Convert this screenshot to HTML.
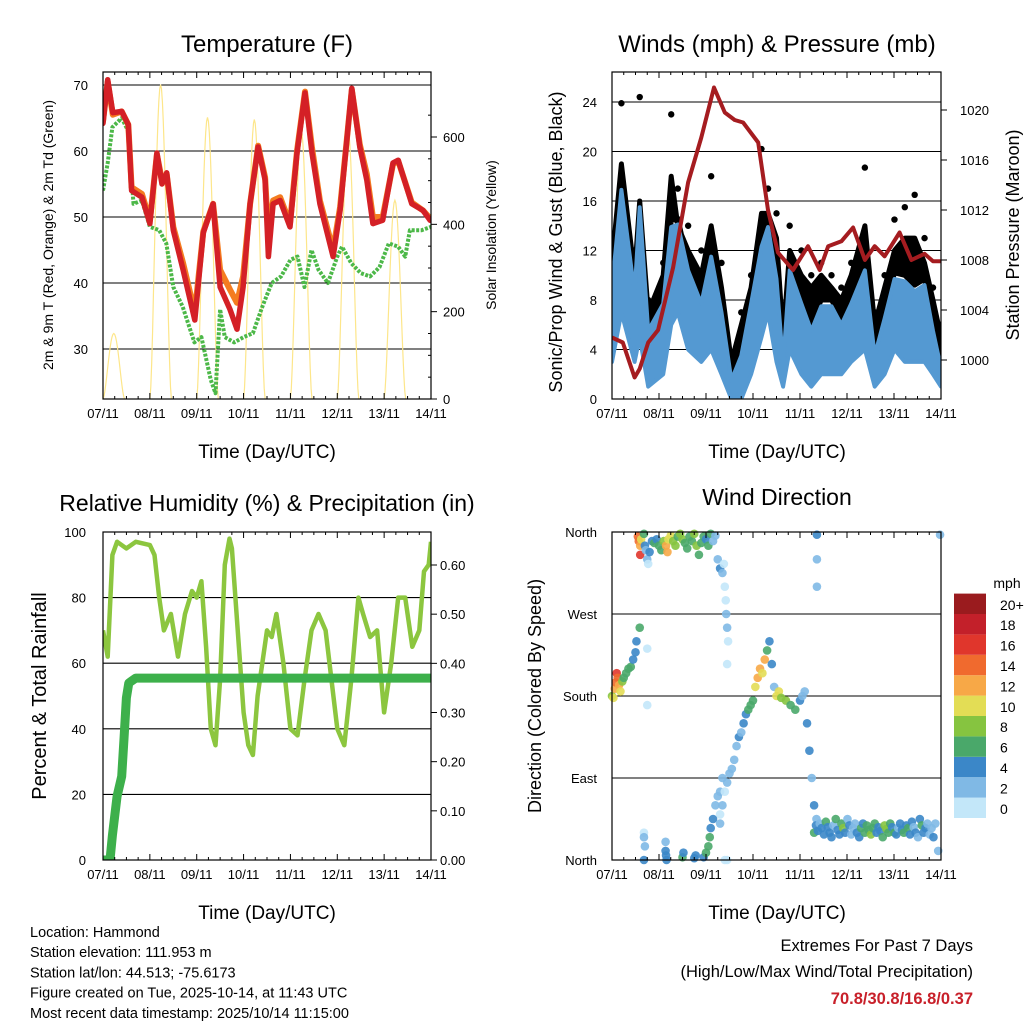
<!DOCTYPE html>
<html><head><meta charset="utf-8"><style>
body{margin:0;background:#fff}
svg{display:block;font-family:"Liberation Sans",sans-serif}
</style></head><body>
<svg id="c" width="1024" height="1024" viewBox="0 0 1024 1024"></svg>
<script>
// ---------- DATA ----------
const dayLabels=["07/11","08/11","09/11","10/11","11/11","12/11","13/11","14/11"];
const tT=[0,0.1,0.21,0.4,0.54,0.61,0.83,1.0,1.15,1.26,1.36,1.5,1.71,1.96,2.14,2.35,2.5,2.71,2.86,2.99,3.14,3.31,3.46,3.53,3.63,3.78,3.99,4.14,4.31,4.46,4.63,4.91,5.06,5.31,5.48,5.63,5.76,5.97,6.19,6.3,6.59,6.83,6.98];
const tRed=[64.2,70.8,65.8,66,64,54,53,49,59.7,55,56.7,48,42,34.4,47.6,52,39.4,36,33,39.4,52,60.6,55.6,44,52,52.5,48.5,59.7,68.8,59.7,52,44,51,69.5,60.6,55.6,49,49.5,58.2,58.6,52,51,49.5];
const tOrange=[64.5,70.5,65.5,66,64,54.5,53.5,49.5,59.5,55.5,56.5,48.5,43,35.5,47.8,52,42,39,37,41,52,60.8,56,47,52.5,53,49,60,69,60.5,52.5,45,51.5,69.3,61,56.5,50,50,58,58.5,52.2,51,49.8];
const tdT=[0,0.1,0.2,0.4,0.54,0.6,0.65,0.83,1.0,1.2,1.35,1.5,1.7,1.95,2.1,2.3,2.4,2.5,2.6,2.8,3.0,3.2,3.4,3.6,3.8,4.0,4.15,4.3,4.45,4.6,4.8,5.0,5.1,5.3,5.5,5.7,5.9,6.1,6.3,6.45,6.55,6.8,7.0];
const tdVal=[54,58.2,63.6,65,63,57,52,52.5,48.5,48,46,39.4,36.4,31,31.8,25.3,23.3,36,31.8,31,31.8,32.4,36.4,40,41,43.5,44,39.4,45,42,40,44,45.5,43,41.5,41,42.4,46,45.5,44,48,48,48.5];
const solarPeak=[150,720,645,640,615,615,455];
const wT=[0,0.2,0.48,0.59,0.77,1.09,1.26,1.4,1.62,1.9,2.11,2.33,2.54,2.75,2.96,3.18,3.32,3.5,3.64,3.78,4.03,4.24,4.45,4.67,4.88,5.09,5.38,5.59,5.8,6.01,6.23,6.44,6.65,6.83,7.0];
const windHi=[9,16.9,8.5,15.5,5.5,7.7,13.9,14.1,10.4,7.7,11.5,7,1.5,3.5,7.7,12.3,13.9,9.7,2.8,10.4,7.7,5.5,7.5,7.5,6,7.7,10.4,3.5,6.5,9.7,9.5,8.7,9.2,5.5,2.5];
const windLo=[3,7,3,5,1,2,6,7,4,3,4,2,0,0,2,5,7,3,1,4,2,1,2,2,2,3,4,1,2,4,3,3,3,2,1];
const gustHi=[13,23.9,12,24.4,8,11,23,17,14,12,18,11,3.5,7,10,20.2,17,15,6,14,12,10,11,10,9,11,18.7,7,10,14.5,15.5,16.5,13,9,6];
const gustMid=[11,19,10,16,7,10,18,14,12,10,14,9,3,6,9,15,15,13,5,12,10,9,10,9,8,10,14,6,9,12,13,13,11,8,5];
const pT=[0,0.23,0.48,0.59,0.77,0.98,1.3,1.62,1.9,2.17,2.4,2.61,2.79,3.11,3.32,3.53,3.85,4.17,4.42,4.6,4.88,5.13,5.38,5.59,5.8,6.12,6.37,6.65,6.83,7.0];
const pVal=[1001.8,1001.4,998.6,999.3,1001.4,1002.4,1007.4,1014.2,1017.8,1021.8,1019.8,1019.2,1019,1017.4,1012,1008.6,1007.2,1009.1,1007.2,1009.1,1009.5,1010.6,1008,1009.1,1008.3,1010.2,1008,1008.5,1007.9,1007.9];
const rhT=[0,0.1,0.2,0.3,0.5,0.7,1.0,1.1,1.2,1.3,1.45,1.6,1.75,1.9,2.0,2.1,2.2,2.3,2.4,2.5,2.6,2.7,2.75,2.9,3.0,3.1,3.2,3.3,3.5,3.6,3.7,3.85,4.0,4.15,4.3,4.45,4.6,4.75,5.0,5.15,5.3,5.45,5.55,5.7,5.85,6.0,6.15,6.3,6.45,6.6,6.75,6.85,6.95,7.0];
const rhVal=[70,62,93,97,95,97,96,93,80,70,75,62,75,82,80,85,65,40,35,55,90,98,95,65,45,35,32,50,70,68,75,60,40,38,55,70,75,70,40,35,55,80,75,68,70,45,60,80,80,65,70,88,90,97];
const rainT=[0,0.15,0.2,0.3,0.4,0.45,0.5,0.55,0.7,7.0];
const rainVal=[0,0,0.05,0.13,0.17,0.25,0.33,0.36,0.37,0.37];
const dirT=[0,0.03,0.06,0.08,0.1,0.12,0.15,0.18,0.22,0.25,0.3,0.35,0.4,0.45,0.5,0.52,0.59,0.75,0.75,
0.55,0.57,0.6,0.62,0.6,0.68,0.7,0.72,0.75,0.77,0.8,0.85,0.9,0.95,1.0,1.05,1.1,1.15,1.18,1.2,1.25,1.3,1.35,1.4,1.45,1.5,1.55,1.6,1.65,1.7,1.75,1.8,1.85,1.9,1.95,2.0,2.05,2.1,2.15,2.2,2.25,2.3,2.35,2.38,2.4,2.42,2.43,2.45,2.47,2.45,
0.68,0.68,0.68,0.7,1.14,1.14,1.15,1.16,1.5,1.52,1.75,1.78,1.95,2.0,2.05,2.08,2.1,2.15,2.2,2.25,2.3,2.3,2.35,2.4,2.45,
2.3,2.35,2.4,2.45,2.5,2.55,2.6,2.65,2.7,2.75,2.8,2.85,2.9,2.95,3.0,3.05,3.1,3.15,3.2,3.25,3.3,3.35,3.4,3.45,3.5,3.55,3.6,3.7,3.8,3.9,4.0,4.05,4.1,4.15,4.2,4.25,4.3,4.35,
4.36,4.36,4.36,
4.30,4.34,4.38,4.42,4.46,4.51,4.55,4.59,4.63,4.67,4.71,4.76,4.80,4.84,4.88,4.92,4.96,5.01,5.05,5.09,5.13,5.17,5.21,5.26,5.30,5.34,5.38,5.42,5.46,5.51,5.55,5.59,5.63,5.67,5.71,5.76,5.80,5.84,5.88,5.92,5.96,6.01,6.05,6.09,6.13,6.17,6.21,6.26,6.30,6.34,6.38,6.42,6.46,6.51,6.55,6.59,6.63,6.67,6.71,6.76,6.80,6.84,6.88,6.94,6.98];
const dirDeg=[180,178,188,195,205,200,192,185,196,200,205,210,212,220,228,240,255,232,170,
355,350,345,352,335,358,345,340,330,325,338,350,348,352,345,340,350,345,338,352,356,350,345,355,358,352,348,342,355,350,358,345,335,348,355,352,345,358,350,356,330,320,315,325,300,285,270,255,240,215,
30,25,0,15,20,10,5,0,3,8,2,5,3,8,15,25,35,45,60,70,50,75,90,0,0,
40,60,75,85,95,100,110,125,135,140,150,160,165,170,175,190,200,210,205,220,230,240,215,190,180,185,178,175,170,165,175,180,185,150,120,90,60,45,
357,330,300,
30,38,32,40,35,28,42,36,30,25,38,45,33,28,40,35,30,45,38,28,35,40,30,25,35,40,30,38,33,28,35,40,30,36,32,25,38,34,30,40,36,30,28,35,40,33,30,38,35,28,42,36,30,25,45,38,30,35,40,28,35,25,40,10,357];
const dirSpd=[9,10,12,14,16,15,12,10,8,7,6,7,6,5,4,4,6,1,1,
14,15,13,11,16,6,4,3,2,1,4,5,6,4,7,6,9,12,13,10,11,9,8,7,9,8,7,6,7,6,8,9,7,6,7,5,7,6,3,2,3,4,2,1,1,1,3,2,1,1,
1,2,4,2,3,4,5,4,6,5,4,5,5,6,7,6,5,4,3,2,1,2,3,1,1,
3,2,1,2,2,2,3,2,4,3,4,5,6,6,7,10,12,13,11,12,6,5,4,3,10,11,9,8,7,6,4,3,3,4,4,3,4,3,
4,2,2,
6,4,5,3,5,4,6,5,4,5,3,6,4,5,6,8,5,3,4,2,2,3,5,4,6,5,7,7,6,8,7,6,5,4,5,6,8,8,7,6,5,6,4,3,4,5,6,5,7,5,4,3,4,3,4,6,5,4,3,2,3,4,3,3,3];
const cbLabels=["0","2","4","6","8","10","12","14","16","18","20+"];
const cbColors=["#c3e7f9","#80b9e5","#3b87c8","#4aa86a","#86c440","#e3dd55","#f7a847","#f06a2e","#e0362c","#c3202a","#9a1b1e"];

const S=document.getElementById('c');
const NS="http://www.w3.org/2000/svg";
function mk(tag,at,parent){const e=document.createElementNS(NS,tag);for(const k in at)e.setAttribute(k,at[k]);(parent||S).appendChild(e);return e;}
function txt(x,y,s,size,anchor,extra,parent){const e=mk('text',Object.assign({x:x,y:y,'font-size':size,'text-anchor':anchor||'middle',fill:'#000'},extra||{}),parent);e.textContent=s;return e;}
function lin(d0,d1,r0,r1){return v=>r0+(v-d0)/(d1-d0)*(r1-r0);}
function pathOf(xs,ys,fx,fy){return xs.map((t,i)=>(i?'L':'M')+fx(t).toFixed(1)+','+fy(ys[i]).toFixed(1)).join('');}

function frame(g,x0,x1,y0,y1,fx){
  for(let d=0;d<=7;d++){
    const x=fx(d);
    mk('line',{x1:x,x2:x,y1:y1,y2:y1-6,stroke:'#000','stroke-width':1},g);
    mk('line',{x1:x,x2:x,y1:y0,y2:y0+6,stroke:'#000','stroke-width':1},g);
    const t=txt(x,y1+19,dayLabels[d],13,'middle',{},g);
    
    
  }
  for(let q=0.25;q<7;q+=0.25){if(Math.abs(q-Math.round(q))<0.01)continue;const x=fx(q);
    mk('line',{x1:x,x2:x,y1:y1,y2:y1-3,stroke:'#000'},g);mk('line',{x1:x,x2:x,y1:y0,y2:y0+3,stroke:'#000'},g);}
  const r=mk('rect',{x:x0,y:y0,width:x1-x0,height:y1-y0,fill:'none',stroke:'#000','stroke-width':1.2},g);
  
  
}
function grid(g,x0,x1,y){mk('line',{x1:x0,x2:x1,y1:y,y2:y,stroke:'#000','stroke-width':1.1},g);}

// TEMPERATURE
(function(){
 const x0=103,x1=431,y0=72,y1=399;
 const g=mk('g',{});  
 const fx=lin(0,7,x0,x1), fy=lin(70,30,85,349), fs=lin(0,600,399,137);
 mk('clipPath',{id:'cl1'},g); mk('rect',{x:x0,y:y0,width:x1-x0,height:y1-y0},g.lastChild);
 const pl=mk('g',{'clip-path':'url(#cl1)'},g);
 [70,60,50,40,30].forEach(v=>{grid(pl,x0,x1,fy(v));const t=txt(88,fy(v)+5,String(v),13,'end',{},g);});
 [0,200,400,600].forEach(v=>{const y=fs(v);mk('line',{x1:x1,x2:x1+6,y1:y,y2:y,stroke:'#000'},g);const t=txt(443,y+5,String(v),13,'start',{},g);});
 for(let v=50;v<700;v+=50){if(v%200)mk('line',{x1:x1,x2:x1-3,y1:fs(v),y2:fs(v),stroke:'#000'},g);}
 let d='';
 solarPeak.forEach((p,i)=>{const st=i+0.0,en=i+0.46;const n=24;
   for(let k=0;k<=n;k++){const t=st+(en-st)*k/n;const f=Math.pow(Math.sin(Math.PI*k/n),1.6);d+=(k?'L':'M')+fx(t).toFixed(1)+','+fs(p*f).toFixed(1);} });
 const sol=mk('path',{d:d,fill:'none',stroke:'#fde68a','stroke-width':1.2},pl);
  
 const td=mk('path',{d:pathOf(tdT,tdVal,fx,fy),fill:'none',stroke:'#4cb848','stroke-width':4,'stroke-dasharray':'3 1.5','stroke-linejoin':'round'},pl);
  
 const or=mk('path',{d:pathOf(tT,tOrange,fx,fy),fill:'none',stroke:'#f47c20','stroke-width':6,'stroke-linejoin':'round','stroke-linecap':'round'},pl);
  
 const rd=mk('path',{d:pathOf(tT,tRed,fx,fy),fill:'none',stroke:'#d42026','stroke-width':5.5,'stroke-linejoin':'round','stroke-linecap':'round'},pl);
  
 frame(g,x0,x1,y0,y1,fx);
 let t=txt(267,52,'Temperature (F)',24,'middle',{},g);
 t=txt(267,458,'Time (Day/UTC)',19,'middle',{},g);
 t=txt(0,0,'2m & 9m T (Red, Orange) & 2m Td (Green)',14,'middle',{transform:'translate(53,235) rotate(-90)'},g);
 t=txt(0,0,'Solar Insolation (Yellow)',14,'middle',{transform:'translate(496,235) rotate(-90)'},g);
})();

// WINDS
(function(){
 const x0=612,x1=941,y0=72,y1=399;
 const g=mk('g',{});  
 const fx=lin(0,7,x0,x1), fy=lin(0,24,399,102), fp=lin(1000,1020,360,110);
 mk('clipPath',{id:'cl2'},g); mk('rect',{x:x0,y:y0,width:x1-x0,height:y1-y0},g.lastChild);
 const pl=mk('g',{'clip-path':'url(#cl2)'},g);
 [0,4,8,12,16,20,24].forEach(v=>{if(v)grid(pl,x0,x1,fy(v));const t=txt(597,fy(v)+5,String(v),13,'end',{},g);});
 [1000,1004,1008,1012,1016,1020].forEach(v=>{const y=fp(v);mk('line',{x1:x1,x2:x1+6,y1:y,y2:y,stroke:'#000'},g);const t=txt(960,y+5,String(v),13,'start',{},g);});
 const band=pathOf(wT,gustMid,fx,fy)+wT.slice().reverse().map((t,i)=>'L'+fx(t).toFixed(1)+','+fy(windHi[wT.length-1-i]+0.5).toFixed(1)).join('')+'Z';
 const gb=mk('path',{d:band,fill:'#000',stroke:'#000','stroke-width':5,'stroke-linejoin':'round'},pl);
  
 wT.forEach((t,i)=>{const c=mk('circle',{cx:fx(t),cy:fy(gustHi[i]),r:3.2,fill:'#000'},pl);
    });
 const wb=pathOf(wT,windHi,fx,fy)+wT.slice().reverse().map((t,i)=>'L'+fx(t).toFixed(1)+','+fy(windLo[wT.length-1-i]).toFixed(1)).join('')+'Z';
 const bl=mk('path',{d:wb,fill:'#5499d2',stroke:'#5499d2','stroke-width':4,'stroke-linejoin':'round'},pl);
  
 const pr=mk('path',{d:pathOf(pT,pVal,fx,fp),fill:'none',stroke:'#a51c20','stroke-width':4,'stroke-linejoin':'round'},pl);
  
 frame(g,x0,x1,y0,y1,fx);
 let t=txt(777,52,'Winds (mph) & Pressure (mb)',24,'middle',{},g);
 t=txt(777,458,'Time (Day/UTC)',19,'middle',{},g);
 t=txt(0,0,'Sonic/Prop Wind & Gust (Blue, Black)',18,'middle',{transform:'translate(562,242) rotate(-90)'},g);
 t=txt(0,0,'Station Pressure (Maroon)',18,'middle',{transform:'translate(1019,235) rotate(-90)'},g);
})();

// RH
(function(){
 const x0=103,x1=431,y0=532,y1=860;
 const g=mk('g',{});  
 const fx=lin(0,7,x0,x1), fy=lin(0,100,860,532), fr=lin(0,0.6,860,565);
 mk('clipPath',{id:'cl3'},g); mk('rect',{x:x0,y:y0,width:x1-x0,height:y1-y0},g.lastChild);
 const pl=mk('g',{'clip-path':'url(#cl3)'},g);
 [0,20,40,60,80,100].forEach(v=>{if(v&&v<100)grid(pl,x0,x1,fy(v));const t=txt(86,fy(v)+5,String(v),13,'end',{},g);});
 [0,0.1,0.2,0.3,0.4,0.5,0.6].forEach(v=>{const y=fr(v);mk('line',{x1:x1,x2:x1+6,y1:y,y2:y,stroke:'#000'},g);const t=txt(440,y+5,v.toFixed(2),13,'start',{},g);});
 const rh=mk('path',{d:pathOf(rhT,rhVal,fx,fy),fill:'none',stroke:'#8cc63f','stroke-width':4.5,'stroke-linejoin':'round'},pl);
  
 const rn=mk('path',{d:pathOf(rainT,rainVal,fx,fr),fill:'none',stroke:'#3db04b','stroke-width':9,'stroke-linejoin':'round','stroke-linecap':'round'},pl);
  
 frame(g,x0,x1,y0,y1,fx);
 let t=txt(267,511,'Relative Humidity (%) & Precipitation (in)',23,'middle',{},g);
 t=txt(267,919,'Time (Day/UTC)',19,'middle',{},g);
 t=txt(0,0,'Percent & Total Rainfall',20,'middle',{transform:'translate(46,696) rotate(-90)'},g);
})();

// WIND DIRECTION
(function(){
 const x0=612,x1=941,y0=532,y1=860;
 const g=mk('g',{});  
 const fx=lin(0,7,x0,x1), fy=lin(0,360,860,532);
 mk('clipPath',{id:'cl4'},g); mk('rect',{x:x0-5,y:y0-5,width:x1-x0+10,height:y1-y0+10},g.lastChild);
 const pl=mk('g',{'clip-path':'url(#cl4)'},g);
 const names=['North','East','South','West','North'];
 [0,90,180,270,360].forEach((v,i)=>{if(v&&v<360)grid(pl,x0,x1,fy(v));const t=txt(597,fy(v)+5,names[i],13,'end',{},g);});
 dirT.forEach((t,i)=>{const b=Math.min(10,Math.floor(dirSpd[i]/2));
   const c=mk('circle',{cx:fx(t),cy:fy(dirDeg[i]),r:4.3,fill:cbColors[b],'fill-opacity':0.9},pl);
    });
 frame(g,x0,x1,y0,y1,fx);
 const cb=mk('g',{},g);  
 const bh=20.4, by=818;
 cbColors.forEach((c,i)=>{const r=mk('rect',{x:954,y:by-(i+1)*bh,width:32,height:bh,fill:c},cb);
    
   const t=txt(1000,by-(i+1)*bh+bh/2+6,cbLabels[i],14,'start',{},cb);});
 let t=txt(1007,588,'mph',14,'middle',{},cb);
 t=txt(777,505,'Wind Direction',23,'middle',{},g);
 t=txt(777,919,'Time (Day/UTC)',19,'middle',{},g);
 t=txt(0,0,'Direction (Colored By Speed)',18,'middle',{transform:'translate(541,696) rotate(-90)'},g);
})();

// FOOTER
(function(){
 const lines=['Location: Hammond','Station elevation: 111.953 m','Station lat/lon: 44.513; -75.6173','Figure created on Tue, 2025-10-14, at 11:43 UTC','Most recent data timestamp: 2025/10/14 11:15:00'];
 lines.forEach((s,i)=>{const t=txt(30,937+i*20.2,s,14.5,'start');});
 let t=txt(973,951,'Extremes For Past 7 Days',16.5,'end');
 t=txt(973,977,'(High/Low/Max Wind/Total Precipitation)',16.5,'end');
 t=txt(973,1004,'70.8/30.8/16.8/0.37',16.5,'end',{fill:'#c8202a','font-weight':'bold'});
})();
</script>
</body></html>
